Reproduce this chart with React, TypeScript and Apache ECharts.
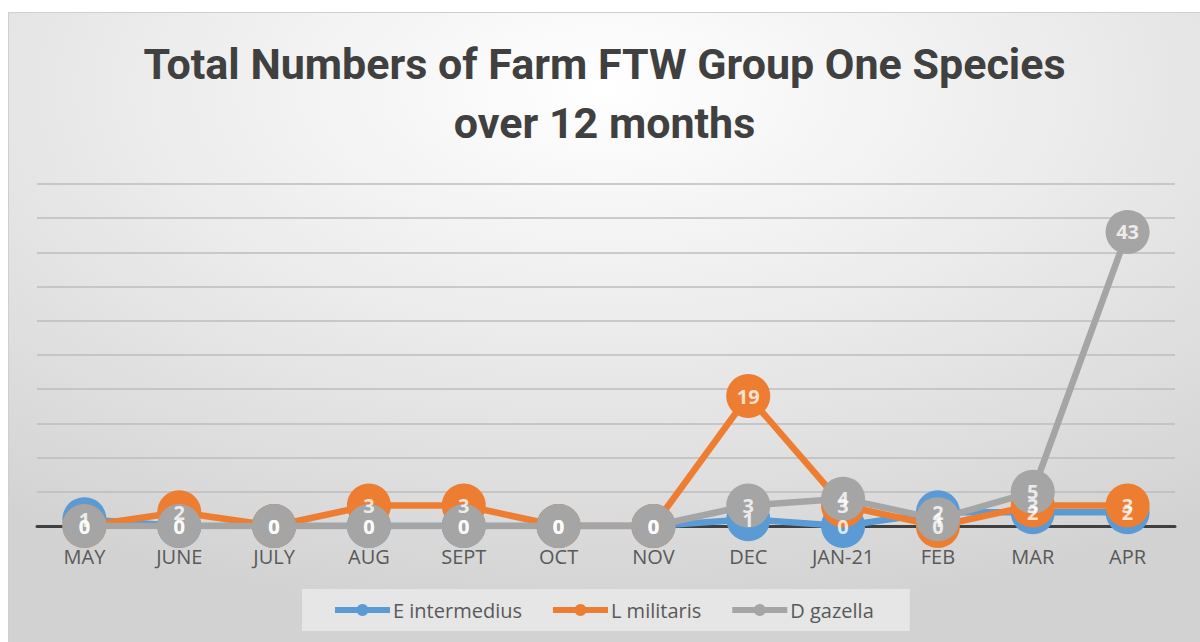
import React, { useEffect, useRef } from "react";
import * as echarts from "echarts";

const months = ["MAY", "JUNE", "JULY", "AUG", "SEPT", "OCT", "NOV", "DEC", "JAN-21", "FEB", "MAR", "APR"];
const eIntermedius = [1, 0, 0, 0, 0, 0, 0, 1, 0, 2, 2, 2];
const lMilitaris = [0, 2, 0, 3, 3, 0, 0, 19, 3, 0, 3, 3];
const dGazella = [0, 0, 0, 0, 0, 0, 0, 3, 4, 1, 5, 43];
const seriesNames = ["E intermedius", "L militaris", "D gazella"];
const seriesColors = ["#5B9BD5", "#ED7D31", "#A5A5A5"];
const yMin = 0;
const yMax = 50;
const yInterval = 5;
const titleText = "Total Numbers of Farm FTW Group One Species\nover 12 months";

const TITLE_FONT = "Roboto, 'Open Sans', sans-serif";
const FONT2 = "'Open Sans', sans-serif";

export default function App() {
  const ref = useRef<HTMLDivElement>(null);
  useEffect(() => {
    if (!ref.current) return;
    const chart = echarts.init(ref.current, undefined, { renderer: "svg" });
    const allData = [eIntermedius, lMilitaris, dGazella];
    const lineSeries = seriesNames.map((name, i) => ({
      name,
      type: "line",
      data: allData[i],
      color: seriesColors[i],
      symbol: "circle",
      symbolSize: 44,
      lineStyle: { width: 6.5, color: seriesColors[i] },
      itemStyle: { color: seriesColors[i] },
      z: 3 + i,
      label: { show: false },
    }));
    const labelSeries = seriesNames.map((name, i) => ({
      name: name + " labels",
      type: "scatter",
      data: allData[i],
      symbol: "circle",
      symbolSize: 44,
      itemStyle: { color: "rgba(0,0,0,0)" },
      z: 10,
      silent: true,
      label: {
        show: true,
        position: "inside",
        color: "#ffffff",
        fontFamily: FONT2,
        fontWeight: "bold",
        fontSize: 20,
      },
    }));
    chart.setOption({
      animation: false,
      backgroundColor: new echarts.graphic.RadialGradient(0.5, 0.12, 0.85, [
        { offset: 0, color: "#ffffff" },
        { offset: 0.45, color: "#ececec" },
        { offset: 1, color: "#d2d2d2" },
      ]),
      title: {
        text: titleText,
        left: "center",
        top: 16,
        textStyle: {
          fontFamily: TITLE_FONT,
          fontWeight: "bold",
          fontSize: 43,
          lineHeight: 59,
          color: "#404040",
        },
      },
      legend: {
        data: seriesNames,
        left: 293,
        top: 576,
        padding: [11, 36, 11, 30],
        itemGap: 28,
        itemWidth: 55,
        itemHeight: 15,
        lineStyle: { width: 6 },
        backgroundColor: "#e6e6e6",
        textStyle: { fontFamily: FONT2, fontSize: 20, color: "#595959", padding: [0, 0, 0, -2] },
      },
      grid: { left: 28, right: 25, top: 171, bottom: 116 },
      xAxis: {
        type: "category",
        data: months,
        boundaryGap: true,
        axisTick: { show: false },
        axisLine: { lineStyle: { color: "#404040", width: 3 } },
        axisLabel: { fontFamily: FONT2, fontSize: 20, color: "#595959", margin: 20 },
        z: 1,
      },
      yAxis: {
        type: "value",
        min: yMin,
        max: yMax,
        interval: yInterval,
        axisLabel: { show: false },
        axisLine: { show: false },
        axisTick: { show: false },
        splitLine: { lineStyle: { color: "#bcbcbc", width: 1.5 } },
      },
      series: [...lineSeries, ...labelSeries],
    });
    return () => chart.dispose();
  }, []);
  return (
    <div
      ref={ref}
      style={{
        position: "absolute",
        left: 8,
        top: 12,
        width: 1192,
        height: 630,
        borderTop: "1px solid #cfcfcf",
        borderLeft: "1px solid #cfcfcf",
        boxSizing: "border-box",
      }}
    />
  );
}
